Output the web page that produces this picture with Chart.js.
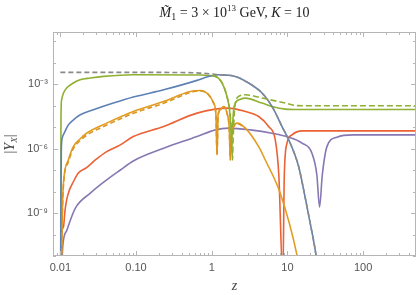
<!DOCTYPE html>
<html>
<head>
<meta charset="utf-8">
<script src="https://cdn.jsdelivr.net/npm/chart.js@4.4.1/dist/chart.umd.min.js"></script>
<style>
  html, body { margin: 0; padding: 0; background: #fff; }
  #wrap { position: relative; width: 416px; height: 295px; }
</style>
</head>
<body>
<div id="wrap"><canvas id="chart" width="416" height="295"></canvas></div>
<script>
// --- DATA: [z, |Y_X|] pairs ---
const grayDashed = [[0.01, 3.56e-3], [0.1, 3.56e-3], [0.4, 3.5e-3], [0.7, 3.3e-3], [1.0, 3.0e-3], [1.22, 2.78e-3],
  [1.56, 2.65e-3], [2.05, 2.31e-3], [3.07, 1.14e-3], [4.62, 3.88e-4], [6.26, 9.2e-5], [8.49, 1.07e-5], [10.9, 1.79e-6],
  [14.1, 1.44e-7], [16.4, 1.2e-8], [20.0, 3.4e-10], [23.9, 1.07e-11], [26, 1e-12]];
const blueLine = [[0.0101, 1e-12], [0.0102, 1e-8], [0.0103, 8.7e-7], [0.0106, 3.16e-6], [0.0115, 6.2e-6],
  [0.01276, 1.28e-5], [0.0149, 2.19e-5], [0.01836, 3.76e-5], [0.0273, 6.4e-5],
  [0.0501, 1.32e-4], [0.092, 2.52e-4], [0.232, 5.5e-4], [0.64, 1.51e-3], [0.91, 2.31e-3], [1.22, 2.78e-3],
  [1.56, 2.65e-3], [2.05, 2.31e-3], [3.07, 1.14e-3], [4.62, 3.88e-4], [6.26, 9.2e-5], [8.49, 1.07e-5], [10.9, 1.79e-6],
  [14.1, 1.44e-7], [16.4, 1.2e-8], [20.0, 3.4e-10], [23.9, 1.07e-11], [26, 1e-12]];
const greenLine = [[0.0101, 1e-12], [0.01015, 1e-8], [0.0102, 3e-5], [0.0104, 1.89e-4], [0.011, 3.88e-4],
  [0.0121, 6.6e-4], [0.01486, 1.14e-3], [0.0182, 1.62e-3], [0.0249, 1.95e-3],
  [0.037, 2.31e-3], [0.092, 2.78e-3], [0.7, 2.7e-3], [1.12, 2.31e-3], [1.37, 1.14e-3], [1.59, 2.69e-4],
  [1.72, 6e-5], [1.80, 5e-6], [1.82, 8.7e-7], [1.86, 5e-6], [1.95, 6.4e-5], [2.05, 1.32e-4], [2.4, 2.0e-4],
  [2.78, 2.26e-4], [4.62, 1.32e-4], [6.26, 9.2e-5], [9.38, 6.94e-5], [15, 6.6e-5], [500, 6.6e-5]];
const greenDashed = [[1.0, 2.5e-3], [1.12, 2.31e-3], [1.37, 1.14e-3], [1.59, 2.69e-4], [1.74, 5e-5], [1.84, 3e-6],
  [1.88, 2.96e-7], [1.92, 3e-6], [2.0, 6e-5], [2.1, 1.8e-4], [2.27, 2.69e-4], [2.78, 3.23e-4], [4.62, 2.26e-4],
  [9.38, 1.32e-4], [12.7, 1.02e-4], [20, 9.9e-5], [500, 9.9e-5]];
const orangeLine = [[0.0103, 1e-12], [0.0106, 7.9e-10], [0.011, 2.5e-8], [0.01276, 2.96e-7], [0.01486, 1.24e-6],
  [0.01836, 2.9e-6], [0.0222, 5.2e-6], [0.041, 1.54e-5], [0.092, 5.36e-5], [0.232, 1.57e-4], [0.521, 4.61e-4], [0.707, 5.1e-4],
  [0.91, 3.23e-4], [1.06, 1.32e-4], [1.137, 3.76e-5], [1.175, 5.1e-7], [1.215, 3.76e-5], [1.30, 6.43e-5],
  [1.44, 9.18e-5], [1.59, 4.51e-5], [1.708, 7.5e-6], [1.76, 2.96e-7], [1.826, 4.37e-6], [1.95, 1.07e-5],
  [2.16, 1.54e-5], [2.78, 9e-6], [4.17, 1.24e-6], [5.1, 2.96e-7], [8.06, 8.2e-9], [13.4, 1.07e-11], [15, 1e-12]];
const orangeDashed = [[0.0103, 1e-12], [0.0106, 6e-10], [0.011, 2e-8], [0.01276, 2.4e-7], [0.01486, 1.0e-6],
  [0.01836, 2.4e-6], [0.0222, 4.2e-6], [0.041, 1.25e-5], [0.092, 4.4e-5], [0.232, 1.3e-4], [0.521, 4.1e-4], [0.707, 4.9e-4],
  [0.91, 3.2e-4], [1.06, 1.32e-4], [1.137, 3.7e-5], [1.175, 5e-7], [1.215, 3.7e-5], [1.30, 6.4e-5],
  [1.44, 9.1e-5], [1.59, 4.5e-5], [1.708, 7.5e-6], [1.76, 3e-7], [1.826, 4.3e-6], [1.95, 1.05e-5],
  [2.16, 1.5e-5], [2.78, 9e-6]];
const redLine = [[0.0102, 1e-12], [0.0104, 1e-10], [0.011, 2.26e-10], [0.01147, 1.1e-9], [0.0121, 4.0e-9],
  [0.01315, 1.17e-8], [0.01486, 2.87e-8], [0.0173, 7.3e-8], [0.0222, 1.3e-7], [0.029, 2.96e-7], [0.041, 7.24e-7],
  [0.0621, 1.49e-6], [0.092, 3.64e-6], [0.232, 1.07e-5], [0.64, 4.51e-5], [1.67, 7.73e-5],
  [2.78, 5.36e-5], [4.17, 3.13e-5], [5.65, 1.07e-5], [6.92, 2.55e-6], [7.7, 5.9e-8], [8.7, 1e-12],
  [9.1, 5.9e-8], [9.88, 1.79e-6], [11.5, 4.37e-6], [15.6, 6.71e-6], [500, 6.71e-6]];
const purpleLine = [[0.0103, 1e-12], [0.0108, 3.2e-11], [0.0122, 1.6e-10], [0.0158, 1.7e-9], [0.0249, 8.5e-9],
  [0.0406, 3.44e-8], [0.0621, 1.01e-7], [0.092, 2.66e-7], [0.232, 1.04e-6], [0.64, 3.64e-6], [1.12, 7.48e-6],
  [1.67, 8.98e-6], [3.23, 7.48e-6], [6.26, 5.24e-6], [10.4, 3.41e-6], [15.6, 1.79e-6], [21.1, 6.1e-7],
  [24.5, 5.9e-8], [26.6, 1.9e-9], [28.9, 5.9e-8], [33.3, 1.24e-6], [45.2, 3.41e-6], [74.1, 4.37e-6], [500, 4.37e-6]];

// --- Axis ticks ---
const xTickValues = [0.01, 0.1, 1, 10, 100];
const xTickLabels = ['0.01', '0.10', '1', '10', '100'];
const yTickExps = [-11, -10, -9, -8, -7, -6, -5, -4, -3, -2, -1];
const yTickLabels = { '-3': '10\u207B\u00B3', '-6': '10\u207B\u2076', '-9': '10\u207B\u2079' };

const toXY = arr => arr.map(p => ({ x: p[0], y: p[1] }));

function line(data, color, dash) {
  return {
    data: toXY(data),
    borderColor: color,
    borderWidth: 1.6,
    borderDash: dash || [],
    pointRadius: 0,
    cubicInterpolationMode: 'monotone',
    fill: false
  };
}

// draws a run of text pieces (font / vertical shift each) centred on x
function drawPieces(ctx, pieces, x, y) {
  let total = 0;
  pieces.forEach(p => { ctx.font = p.font; p.w = ctx.measureText(p.t).width; total += p.w; });
  let cx = x - total / 2;
  pieces.forEach(p => {
    ctx.font = p.font;
    ctx.fillText(p.t, cx, y + (p.dy || 0));
    cx += p.w;
  });
}

const framePlugin = {
  id: 'frame',
  afterDraw(chart) {
    const { ctx, chartArea: a, scales: { x, y } } = chart;
    ctx.save();
    ctx.strokeStyle = '#b5b5b5';
    ctx.lineWidth = 1;
    ctx.strokeRect(a.left + 0.5, a.top + 0.5, a.right - a.left - 1, a.bottom - a.top - 1);

    // x ticks on top and bottom
    ctx.beginPath();
    for (let d = -3; d <= 2; d++) {
      for (let m = 1; m <= 9; m++) {
        const px = Math.round(x.getPixelForValue(m * Math.pow(10, d))) + 0.5;
        if (px < a.left || px > a.right) continue;
        const len = m === 1 ? 5 : 3;
        ctx.moveTo(px, a.bottom); ctx.lineTo(px, a.bottom - len);
        ctx.moveTo(px, a.top); ctx.lineTo(px, a.top + len);
      }
    }
    // y ticks on left and right
    yTickExps.forEach(e => {
      const py = Math.round(y.getPixelForValue(Math.pow(10, e))) + 0.5;
      const len = (e % 3 === 0) ? 5 : 3;
      ctx.moveTo(a.left, py); ctx.lineTo(a.left + len, py);
      ctx.moveTo(a.right, py); ctx.lineTo(a.right - len, py);
    });
    ctx.stroke();

    // titles
    ctx.fillStyle = '#222';
    ctx.textBaseline = 'alphabetic';
    const serif = '"Liberation Serif", "DejaVu Serif", serif';
    drawPieces(ctx, [
      { t: 'M\u0303', font: 'italic 14px ' + serif },
      { t: '1', font: '10px ' + serif, dy: 3 },
      { t: ' = 3 \u00D7 10', font: '14px ' + serif },
      { t: '13', font: '9px ' + serif, dy: -6 },
      { t: ' GeV, ', font: '14px ' + serif },
      { t: 'K', font: 'italic 14px ' + serif },
      { t: ' = 10', font: '14px ' + serif }
    ], (a.left + a.right) / 2, 17);

    ctx.fillStyle = '#444';
    drawPieces(ctx, [{ t: 'z', font: 'italic 14px ' + serif }], (a.left + a.right) / 2, 290);

    ctx.translate(14, (a.top + a.bottom) / 2);
    ctx.rotate(-Math.PI / 2);
    drawPieces(ctx, [
      { t: '|', font: '14px ' + serif },
      { t: 'Y', font: 'italic 14px ' + serif },
      { t: 'X', font: 'italic 9px ' + serif, dy: 3 },
      { t: '|', font: '14px ' + serif }
    ], 0, 0);
    ctx.restore();
  }
};

new Chart(document.getElementById('chart').getContext('2d'), {
  type: 'line',
  data: {
    datasets: [
      line(grayDashed, '#8a8a8a', [5, 3]),
      line(greenDashed, '#8FB032', [6, 3]),
      line(orangeDashed, '#DC9520', [5, 3]),
      line(blueLine, '#5E81B5'),
      line(greenLine, '#8FB032'),
      line(orangeLine, '#E19C24'),
      line(redLine, '#EB6235'),
      line(purpleLine, '#8778B3')
    ]
  },
  options: {
    responsive: false,
    animation: false,
    layout: { padding: { top: 32, right: 0, left: 0, bottom: 0 } },
    plugins: { legend: { display: false }, tooltip: { enabled: false } },
    scales: {
      x: {
        type: 'logarithmic',
        min: 0.008,
        max: 500,
        grid: { display: false, drawTicks: false },
        border: { display: false },
        afterBuildTicks: s => { s.ticks = xTickValues.map(v => ({ value: v })); },
        afterFit: s => { s.height = 39; },
        ticks: {
          autoSkip: false,
          maxRotation: 0,
          padding: 5,
          color: '#555',
          font: { family: '"Liberation Sans", sans-serif', size: 11 },
          callback: (v, i) => xTickLabels[i]
        }
      },
      y: {
        type: 'logarithmic',
        min: 1e-11,
        max: 0.27,
        grid: { display: false, drawTicks: false },
        border: { display: false },
        afterBuildTicks: s => { s.ticks = yTickExps.map(e => ({ value: Math.pow(10, e) })); },
        afterFit: s => { s.width = 53; },
        ticks: {
          autoSkip: false,
          padding: 5,
          color: '#555',
          font: { family: '"Liberation Sans", sans-serif', size: 11 },
          callback: (v, i) => yTickLabels[yTickExps[i]] || ''
        }
      }
    }
  },
  plugins: [framePlugin]
});
</script>
</body>
</html>
